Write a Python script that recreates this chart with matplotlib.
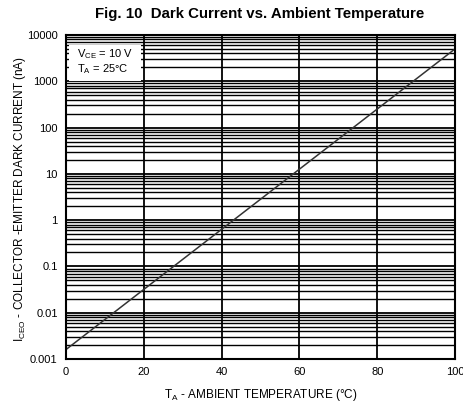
import matplotlib
matplotlib.use("Agg")
import matplotlib.pyplot as plt
from matplotlib.patches import Rectangle
from matplotlib.ticker import LogLocator, FixedLocator, NullFormatter

plt.rcParams['font.family'] = ['Liberation Sans', 'DejaVu Sans']

# Dark current line endpoints (temperature in degC, current in nA)
temps = [0, 100]
dark_current = [0.0016, 5000]

xticks = [0, 20, 40, 60, 80, 100]
yticks = [0.001, 0.01, 0.1, 1, 10, 100, 1000, 10000]
ytick_labels = ["0.001", "0.01", "0.1", "1", "10", "100", "1000", "10000"]

fig = plt.figure(figsize=(4.64, 4.03), dpi=100)
ax = fig.add_axes([66/464, 1 - 359/403, (455-66)/464, (359-35)/403])

ax.set_yscale('log')
ax.set_xlim(0, 100)
ax.set_ylim(0.001, 10000)

ax.yaxis.set_major_locator(FixedLocator(yticks))
ax.set_yticklabels(ytick_labels)
ax.yaxis.set_minor_locator(LogLocator(base=10, subs=range(2, 10)))
ax.yaxis.set_minor_formatter(NullFormatter())
ax.set_xticks(xticks)
ax.set_xticklabels([str(t) for t in xticks])

ax.grid(True, which='major', axis='both', color='black', linewidth=1.3)
ax.grid(True, which='minor', axis='y', color='black', linewidth=1.0)
ax.tick_params(which='both', length=0, labelsize=8, pad=6)
for s in ax.spines.values():
    s.set_linewidth(1.5)

ax.plot(temps, dark_current, color='#333333', linewidth=1.1)

# White panel behind the test-condition note
ax.add_patch(Rectangle((3/389, (359-81)/324), 72/389, 36/324, transform=ax.transAxes,
                       facecolor='white', edgecolor='none', zorder=4))
ax.text(11/389, 1 - 19/324, "V$_{\\mathregular{CE}}$ = 10 V", transform=ax.transAxes,
        fontsize=8, va='center', ha='left', zorder=5)
ax.text(11/389, 1 - 34/324, "T$_{\\mathregular{A}}$ = 25°C", transform=ax.transAxes,
        fontsize=8, va='center', ha='left', zorder=5)

fig.text(260/464, 1 - 14/403, "Fig. 10  Dark Current vs. Ambient Temperature",
         ha='center', va='center', fontsize=10.8, fontweight='bold')
fig.text(261/464, 1 - 395/403, "T$_{\\mathregular{A}}$ - AMBIENT TEMPERATURE (°C)",
         ha='center', va='center', fontsize=8.5)
fig.text(20/464, 1 - 199/403, "I$_{\\mathregular{CEO}}$ - COLLECTOR -EMITTER DARK CURRENT (nA)",
         ha='center', va='center', rotation=90, fontsize=8.5)

fig.savefig("out.png", dpi=100)
